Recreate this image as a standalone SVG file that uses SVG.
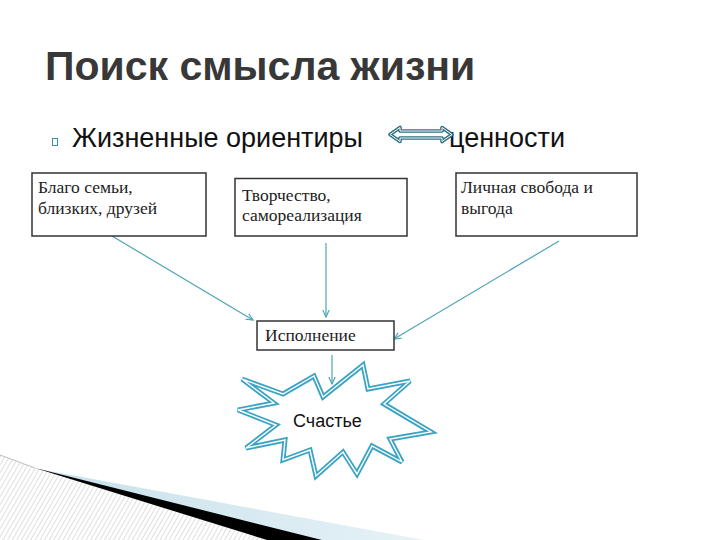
<svg xmlns="http://www.w3.org/2000/svg" width="720" height="540" viewBox="0 0 720 540">
<style>
.title{font-family:"Liberation Sans",Arial,sans-serif;font-weight:bold;font-size:41px;fill:#383838}
.sub{font-family:"Liberation Sans",Arial,sans-serif;font-size:27px;fill:#111}
.box{fill:#fff;stroke:#333;stroke-width:1.5}
.bt{font-family:"Liberation Serif","Times New Roman",serif;font-size:17.5px;fill:#222}
.conn{stroke:#4ea5b3;stroke-width:1.2;fill:none}
.star-o{fill:#fff;stroke:#3ba3c3;stroke-width:5;stroke-linejoin:miter;stroke-miterlimit:3}
.star-i{fill:none;stroke:#fff;stroke-width:1.4;stroke-linejoin:miter;stroke-miterlimit:3}
.st{font-family:"Liberation Sans",Arial,sans-serif;font-size:18px;fill:#111}
</style>
<defs>
<marker id="ah" markerWidth="8" markerHeight="8" refX="7" refY="4" orient="auto" markerUnits="userSpaceOnUse">
<path d="M0,0.8 L7,4 L0,7.2" fill="none" stroke="#4ea5b3" stroke-width="1.2"/>
</marker>
<pattern id="hatch" width="4" height="4" patternUnits="userSpaceOnUse" patternTransform="rotate(30)">
<rect width="4" height="4" fill="#fff"/>
<line x1="0" y1="0" x2="0" y2="4" stroke="#c8c8c8" stroke-width="1.2"/>
</pattern>
<linearGradient id="blue" x1="0" y1="0" x2="1" y2="0">
<stop offset="0" stop-color="#c7e0ea"/>
<stop offset="1" stop-color="#e6f2f7"/>
</linearGradient>
</defs>
<rect width="720" height="540" fill="#fff"/>
<g id="decor">
<polygon points="0,455 35,468 267,540 0,540" fill="url(#hatch)"/>
<polygon points="33,468 424,540 322,540" fill="url(#blue)"/>
<polygon points="35,468 322,540 267,540" fill="#000"/>
<line x1="0" y1="455" x2="35" y2="468" stroke="#bbb" stroke-width="1"/>
</g>
<g id="title">
<text class="title" x="45" y="80">Поиск смысла жизни</text>
</g>
<g id="subtitle">
<rect x="52.5" y="138.5" width="5" height="7" fill="none" stroke="#3a8ea0" stroke-width="1"/>
<text class="sub" x="72" y="147">Жизненные ориентиры</text>
<text class="sub" x="449" y="147">ценности</text>
</g>
<g id="double-arrow">
<polygon points="390,134.5 400,127.5 400,131 442,131 442,127.5 452,134.5 442,141.5 442,138 400,138 400,141.5" fill="#fff" stroke="#2f6f80" stroke-width="3.6" stroke-linejoin="round"/>
<polygon points="390,134.5 400,127.5 400,131 442,131 442,127.5 452,134.5 442,141.5 442,138 400,138 400,141.5" fill="none" stroke="#fff" stroke-width="1" stroke-linejoin="round"/>
</g>
<g id="connectors">
<line class="conn" x1="112" y1="236" x2="253" y2="320" marker-end="url(#ah)"/>
<line class="conn" x1="326" y1="243" x2="326" y2="317" marker-end="url(#ah)"/>
<line class="conn" x1="559" y1="241" x2="394" y2="339" marker-end="url(#ah)"/>
<line class="conn" x1="332" y1="355" x2="332" y2="384" marker-end="url(#ah)"/>
</g>
<g id="node-family">
<rect class="box" x="32" y="173" width="174" height="63"/>
<text class="bt" x="38" y="193">Благо семьи,</text>
<text class="bt" x="38" y="214">близких, друзей</text>
</g>
<g id="node-creativity">
<rect class="box" x="235" y="178.5" width="172" height="57.5"/>
<text class="bt" x="242" y="201">Творчество,</text>
<text class="bt" x="242" y="221">самореализация</text>
</g>
<g id="node-freedom">
<rect class="box" x="456" y="173" width="181" height="63"/>
<text class="bt" x="461" y="193">Личная свобода и</text>
<text class="bt" x="461" y="214">выгода</text>
</g>
<g id="node-execution">
<rect class="box" x="257" y="321" width="137" height="29"/>
<text class="bt" x="265" y="341">Исполнение</text>
</g>
<g id="node-happiness">
<polygon class="star-o" points="242,379 283,394 314,376 323,397 363,365 368,389 410,381 384,404 431,432 390,439 402,462 372,446 357,474 343,452 316,476 310,450 283,460 285,440 246,448 276,425 238,410 274,403"/>
<polygon class="star-i" points="242,379 283,394 314,376 323,397 363,365 368,389 410,381 384,404 431,432 390,439 402,462 372,446 357,474 343,452 316,476 310,450 283,460 285,440 246,448 276,425 238,410 274,403"/>
<text class="st" x="293" y="427">Счастье</text>
</g>
</svg>
